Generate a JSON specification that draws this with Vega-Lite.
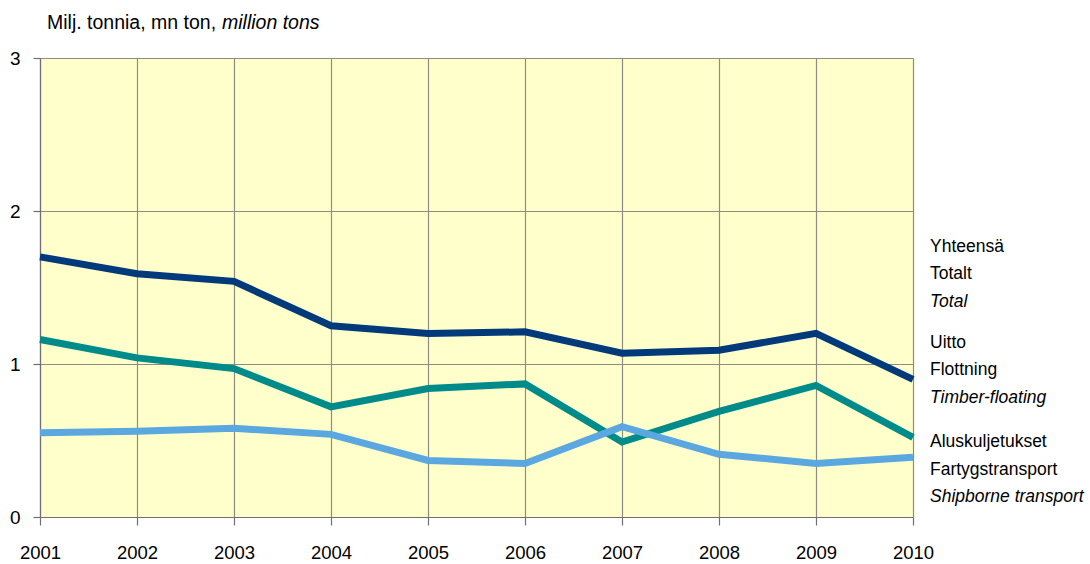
{
  "$schema": "https://vega.github.io/schema/vega-lite/v6.json",
  "width": 873,
  "height": 459,
  "autosize": {"type": "none"},
  "padding": {"left": 40, "top": 58, "right": 177, "bottom": 47},
  "background": "white",
  "config": {
    "view": {"fill": "#FFFFCC", "stroke": null},
    "font": "Liberation Sans"
  },
  "datasets": {
    "series": [
      {"year": 2001, "series": "Total", "value": 1.70},
      {"year": 2002, "series": "Total", "value": 1.59},
      {"year": 2003, "series": "Total", "value": 1.54},
      {"year": 2004, "series": "Total", "value": 1.25},
      {"year": 2005, "series": "Total", "value": 1.20},
      {"year": 2006, "series": "Total", "value": 1.21},
      {"year": 2007, "series": "Total", "value": 1.07},
      {"year": 2008, "series": "Total", "value": 1.09},
      {"year": 2009, "series": "Total", "value": 1.20},
      {"year": 2010, "series": "Total", "value": 0.90},
      {"year": 2001, "series": "Timber-floating", "value": 1.16},
      {"year": 2002, "series": "Timber-floating", "value": 1.04},
      {"year": 2003, "series": "Timber-floating", "value": 0.97},
      {"year": 2004, "series": "Timber-floating", "value": 0.72},
      {"year": 2005, "series": "Timber-floating", "value": 0.84},
      {"year": 2006, "series": "Timber-floating", "value": 0.87},
      {"year": 2007, "series": "Timber-floating", "value": 0.49},
      {"year": 2008, "series": "Timber-floating", "value": 0.69},
      {"year": 2009, "series": "Timber-floating", "value": 0.86},
      {"year": 2010, "series": "Timber-floating", "value": 0.52},
      {"year": 2001, "series": "Shipborne transport", "value": 0.55},
      {"year": 2002, "series": "Shipborne transport", "value": 0.56},
      {"year": 2003, "series": "Shipborne transport", "value": 0.58},
      {"year": 2004, "series": "Shipborne transport", "value": 0.54},
      {"year": 2005, "series": "Shipborne transport", "value": 0.37},
      {"year": 2006, "series": "Shipborne transport", "value": 0.35},
      {"year": 2007, "series": "Shipborne transport", "value": 0.59},
      {"year": 2008, "series": "Shipborne transport", "value": 0.41},
      {"year": 2009, "series": "Shipborne transport", "value": 0.35},
      {"year": 2010, "series": "Shipborne transport", "value": 0.39}
    ],
    "labels": [
      {"text": "Yhteensä", "y": 1.765, "italic": false},
      {"text": "Totalt", "y": 1.585, "italic": false},
      {"text": "Total", "y": 1.405, "italic": true},
      {"text": "Uitto", "y": 1.14, "italic": false},
      {"text": "Flottning", "y": 0.96, "italic": false},
      {"text": "Timber-floating", "y": 0.78, "italic": true},
      {"text": "Aluskuljetukset", "y": 0.49, "italic": false},
      {"text": "Fartygstransport", "y": 0.31, "italic": false},
      {"text": "Shipborne transport", "y": 0.13, "italic": true}
    ]
  },
  "layer": [
    {
      "data": {"name": "series"},
      "mark": {"type": "line", "strokeWidth": 7, "strokeJoin": "miter", "strokeCap": "butt"},
      "encoding": {
        "x": {
          "field": "year", "type": "quantitative",
          "scale": {"domain": [2001, 2010], "nice": false, "zero": false},
          "axis": {
            "values": [2001, 2002, 2003, 2004, 2005, 2006, 2007, 2008, 2009, 2010],
            "format": "d", "title": null,
            "grid": true, "gridColor": "#8C8C80", "gridOpacity": 1, "gridWidth": 1.2,
            "domainColor": "#707070", "domainWidth": 1.2,
            "tickColor": "#707070", "tickSize": 8, "tickWidth": 1.2,
            "labelFont": "Liberation Sans", "labelFontSize": 18.5, "labelColor": "#000000",
            "labelPadding": 18, "labelFlush": false
          }
        },
        "y": {
          "field": "value", "type": "quantitative",
          "scale": {"domain": [0, 3], "nice": false},
          "axis": {
            "values": [0, 1, 2, 3], "format": "d", "title": null,
            "grid": true, "gridColor": "#8C8C80", "gridOpacity": 1, "gridWidth": 1.2,
            "domainColor": "#707070", "domainWidth": 1.2,
            "tickColor": "#707070", "tickSize": 7, "tickWidth": 1.2,
            "labelFont": "Liberation Sans", "labelFontSize": 19, "labelColor": "#000000",
            "labelPadding": 13
          }
        },
        "color": {
          "field": "series", "type": "nominal",
          "scale": {
            "domain": ["Total", "Timber-floating", "Shipborne transport"],
            "range": ["#003A7A", "#008B8B", "#5BA8E0"]
          },
          "legend": null
        },
        "detail": {"field": "series"}
      }
    },
    {
      "data": {"name": "labels"},
      "transform": [{"filter": "!datum.italic"}],
      "mark": {"type": "text", "align": "left", "baseline": "middle", "dx": 17, "fontSize": 17.5, "font": "Liberation Sans", "color": "#000000", "clip": false},
      "encoding": {
        "x": {"datum": 2010, "type": "quantitative"},
        "y": {"field": "y", "type": "quantitative"},
        "text": {"field": "text"}
      }
    },
    {
      "data": {"name": "labels"},
      "transform": [{"filter": "datum.italic"}],
      "mark": {"type": "text", "align": "left", "baseline": "middle", "dx": 17, "fontSize": 17.5, "fontStyle": "italic", "font": "Liberation Sans", "color": "#000000", "clip": false},
      "encoding": {
        "x": {"datum": 2010, "type": "quantitative"},
        "y": {"field": "y", "type": "quantitative"},
        "text": {"field": "text"}
      }
    },
    {
      "data": {"values": [{"text": "Milj. tonnia, mn ton,"}]},
      "mark": {"type": "text", "align": "left", "baseline": "alphabetic", "dx": 7, "dy": -29, "fontSize": 19.5, "font": "Liberation Sans", "color": "#000000", "clip": false},
      "encoding": {
        "x": {"datum": 2001, "type": "quantitative"},
        "y": {"datum": 3, "type": "quantitative"},
        "text": {"field": "text"}
      }
    },
    {
      "data": {"values": [{"text": "million tons"}]},
      "mark": {"type": "text", "align": "left", "baseline": "alphabetic", "dx": 182, "dy": -29, "fontSize": 19.5, "fontStyle": "italic", "font": "Liberation Sans", "color": "#000000", "clip": false},
      "encoding": {
        "x": {"datum": 2001, "type": "quantitative"},
        "y": {"datum": 3, "type": "quantitative"},
        "text": {"field": "text"}
      }
    }
  ]
}
